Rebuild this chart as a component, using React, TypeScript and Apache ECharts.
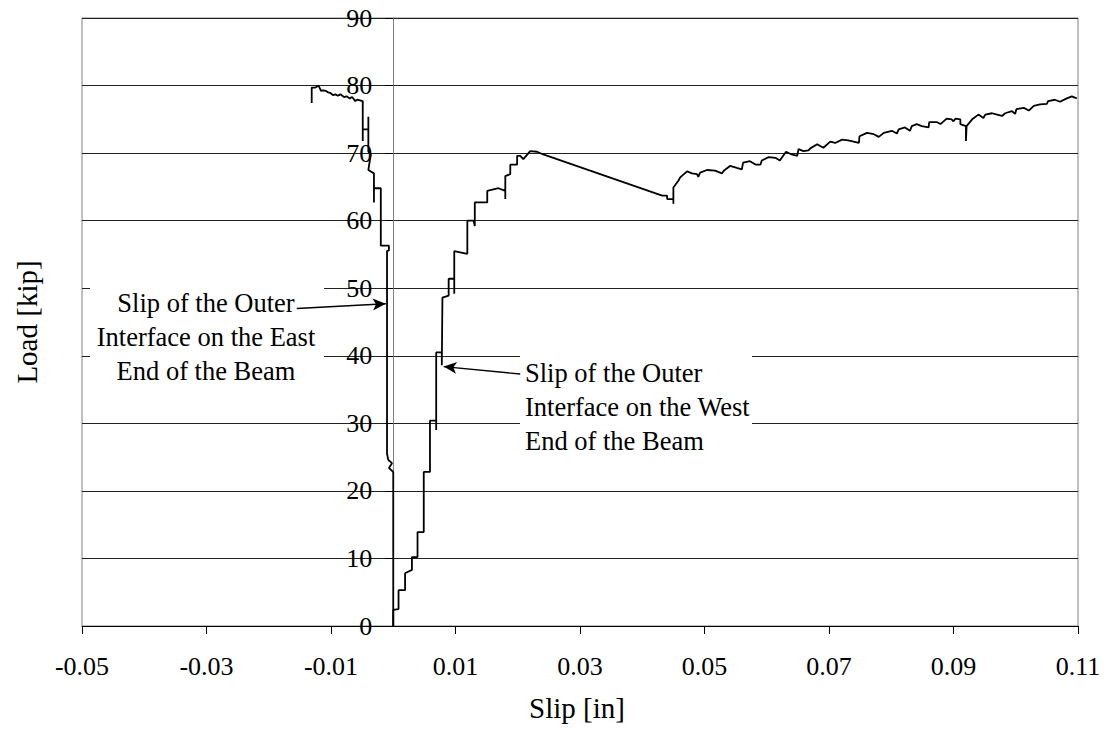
import React, { useEffect, useRef } from "react";
import * as echarts from "echarts";

const xTickValues = [-0.05, -0.03, -0.01, 0.01, 0.03, 0.05, 0.07, 0.09, 0.11];

// East end (negative slip)
const eastSlip = [
  0, 0, -0.0007, -0.0002, -0.0008, -0.001, -0.001, -0.0007, -0.0007, -0.002,
  -0.002, -0.0031, -0.0031, -0.0031, -0.0040, -0.0036, -0.0040, -0.0040, -0.0040,
  -0.0049, -0.0049, -0.0049, -0.0058, -0.0061, -0.0066, -0.0070, -0.0075, -0.0079,
  -0.0085, -0.0089, -0.0093, -0.0097, -0.0101, -0.0105, -0.0108, -0.0113, -0.0116,
  -0.0120, -0.0125, -0.0131, -0.0131,
];
const eastLoad = [
  0, 22.8, 23.4, 24.1, 24.6, 25.5, 55.5, 55.6, 56.3, 56.3,
  64.8, 64.8, 62.7, 67.0, 67.5, 69.8, 70.2, 75.4, 73.5,
  73.5, 71.8, 77.7, 77.9, 77.7, 78.3, 78.1, 78.4, 78.3,
  78.7, 78.5, 78.7, 78.6, 78.9, 79.0, 79.2, 79.3, 79.2,
  80.0, 79.7, 79.7, 77.4,
];

// West end (positive slip)
const westSlip = [
  0, 0, 0.00085, 0.00085, 0.0019, 0.0019, 0.003, 0.003, 0.0039, 0.0039,
  0.0049, 0.0049, 0.0059, 0.0059, 0.0069, 0.0069, 0.0069, 0.0078, 0.0078, 0.0079,
  0.0079, 0.0089, 0.0089, 0.0098, 0.0098, 0.0098, 0.0119, 0.0119, 0.0129, 0.0131,
  0.0131, 0.0151, 0.0151, 0.0169, 0.018, 0.018, 0.018, 0.0188, 0.0188, 0.0199,
  0.0199, 0.0204, 0.0209, 0.022, 0.0231, 0.0241, 0.0432, 0.044, 0.044, 0.045,
  0.045, 0.045, 0.0458, 0.0461, 0.0472, 0.048, 0.0488, 0.049, 0.0493, 0.0504,
  0.0517, 0.0528, 0.0531, 0.0541, 0.0552, 0.056, 0.0562, 0.0573, 0.0582, 0.059,
  0.0592, 0.0603, 0.0614, 0.0621, 0.0631, 0.064, 0.0649, 0.0651, 0.0659, 0.0667,
  0.067, 0.0681, 0.0691, 0.0702, 0.071, 0.0721, 0.0731, 0.0748, 0.0749, 0.0761,
  0.0772, 0.078, 0.0788, 0.0801, 0.0809, 0.0812, 0.0822, 0.083, 0.0833, 0.0841,
  0.0849, 0.086, 0.0861, 0.0873, 0.0879, 0.0889, 0.0897, 0.09, 0.0903, 0.0911,
  0.0911, 0.092, 0.092, 0.0921, 0.093, 0.094, 0.0948, 0.0951, 0.0962, 0.097,
  0.0978, 0.0983, 0.0994, 0.0999, 0.1001, 0.1013, 0.1021, 0.1029, 0.1039, 0.105,
  0.1052, 0.1063, 0.1071, 0.1082, 0.109, 0.1098,
];
const westLoad = [
  0, 2.4, 2.5, 5.3, 5.3, 7.8, 8.3, 10.2, 10.2, 13.9,
  13.9, 22.8, 22.8, 30.4, 30.4, 29.0, 40.5, 40.5, 38.6, 38.6,
  48.6, 48.9, 51.4, 51.4, 49.2, 55.5, 55.1, 60.0, 60.0, 59.2,
  62.7, 62.7, 64.4, 64.8, 64.4, 63.2, 66.6, 66.9, 68.3, 68.3,
  69.6, 69.6, 69.1, 70.3, 70.2, 69.8, 63.7, 63.7, 63.2, 63.2,
  62.5, 64.9, 65.9, 66.4, 67.3, 67.0, 66.9, 66.5, 67.1, 67.5,
  67.4, 67.0, 67.4, 68.1, 67.8, 67.6, 68.6, 68.8, 68.3, 68.3,
  68.9, 69.4, 69.3, 68.9, 70.2, 69.8, 69.6, 70.6, 70.3, 70.4,
  70.7, 71.3, 70.8, 71.7, 71.5, 72.0, 71.9, 71.5, 72.5, 73.0,
  72.8, 72.4, 73.0, 73.3, 72.9, 73.5, 73.8, 73.3, 74.0, 74.3,
  74.0, 73.8, 74.6, 74.6, 74.3, 75.1, 75.0, 74.7, 75.1, 75.0,
  74.3, 74.0, 71.8, 74.0, 75.0, 75.7, 75.2, 75.7, 75.9, 75.7,
  75.5, 75.9, 76.2, 75.8, 76.5, 76.7, 76.3, 77.0, 77.2, 77.3,
  77.7, 77.9, 77.6, 78.1, 78.4, 78.1,
];

// Annotation arrows (data coordinates: tail -> head)
const eastArrowFrom = [-0.0155, 47.0];
const eastArrowTo = [-0.0012, 47.7];
const westArrowFrom = [0.0204, 37.3];
const westArrowTo = [0.0081, 38.4];

const eastText = ["Slip of the Outer", "Interface on the East", "End of the Beam"];
const westText = ["Slip of the Outer", "Interface on the West", "End of the Beam"];

const FONT = "Liberation Serif, Times New Roman, serif";

export default function App() {
  const ref = useRef<HTMLDivElement>(null);
  useEffect(() => {
    if (!ref.current) return;
    const chart = echarts.init(ref.current, null, { renderer: "svg" });
    const toPairs = (xs: number[], ys: number[]) => xs.map((x, i) => [x, ys[i]]);
    const arrowLine = (from: number[], to: number[]) => ({
      type: "line",
      data: [],
      symbol: "none",
      silent: true,
      markLine: {
        silent: true,
        animation: false,
        symbol: ["none", "arrow"],
        symbolSize: [9, 13],
        label: { show: false },
        lineStyle: { color: "#000", width: 1.3, type: "solid" },
        emphasis: { disabled: true },
        data: [[{ coord: from }, { coord: to }]],
      },
    });
    const textLines = (lines: string[], x: number, y0: number, align: string) =>
      lines.map((t, i) => ({
        type: "text",
        x,
        y: y0 + i * 34,
        z: 10,
        style: {
          text: t,
          fill: "#000",
          fontSize: 26.5,
          fontFamily: FONT,
          align,
          verticalAlign: "middle",
        },
      }));
    chart.setOption({
      animation: false,
      grid: {
        left: 82,
        top: 18,
        right: 27,
        bottom: 108,
        show: true,
        borderColor: "#808080",
        borderWidth: 1,
        backgroundColor: "transparent",
      },
      xAxis: {
        type: "value",
        min: -0.05,
        max: 0.11,
        axisLine: { onZero: false, lineStyle: { color: "#000", width: 1 } },
        axisTick: {
          show: true,
          length: 8,
          customValues: xTickValues,
          lineStyle: { color: "#000" },
        },
        axisLabel: {
          customValues: xTickValues,
          formatter: (v: number) => v.toFixed(2),
          fontSize: 26,
          fontFamily: FONT,
          color: "#000",
          margin: 27,
        },
        splitLine: { show: false },
      },
      yAxis: {
        type: "value",
        min: 0,
        max: 90,
        interval: 10,
        axisLine: { show: true, onZero: true, lineStyle: { color: "#808080", width: 1 } },
        axisTick: { show: true, length: 8, lineStyle: { color: "#000" } },
        axisLabel: { fontSize: 26, fontFamily: FONT, color: "#000", margin: 21 },
        splitLine: { show: true, lineStyle: { color: "#222", width: 1 } },
      },
      series: [
        {
          type: "line",
          name: "East",
          data: toPairs(eastSlip, eastLoad),
          symbol: "none",
          showSymbol: false,
          lineStyle: { color: "#000", width: 1.8 },
          silent: true,
        },
        {
          type: "line",
          name: "West",
          data: toPairs(westSlip, westLoad),
          symbol: "none",
          showSymbol: false,
          lineStyle: { color: "#000", width: 1.8 },
          silent: true,
        },
        arrowLine(eastArrowFrom, eastArrowTo),
        arrowLine(westArrowFrom, westArrowTo),
      ],
      graphic: [
        { type: "rect", z: 1, shape: { x: 90, y: 283, width: 234, height: 108 }, style: { fill: "#fff" } },
        { type: "rect", z: 1, shape: { x: 520, y: 352, width: 232, height: 108 }, style: { fill: "#fff" } },
        ...textLines(eastText, 206, 303, "center"),
        ...textLines(westText, 525, 373, "left"),
        {
          type: "text",
          x: 27,
          y: 322,
          rotation: Math.PI / 2,
          style: { text: "Load [kip]", fill: "#000", fontSize: 29, fontFamily: FONT, align: "center", verticalAlign: "middle" },
        },
        {
          type: "text",
          x: 577,
          y: 708,
          style: { text: "Slip [in]", fill: "#000", fontSize: 29, fontFamily: FONT, align: "center", verticalAlign: "middle" },
        },
      ],
    });
    // Place the vertical axis at slip = 0 (where it crosses in the reference)
    const zeroPx = chart.convertToPixel({ xAxisIndex: 0 }, 0) as number;
    const gridLeft = chart.convertToPixel({ xAxisIndex: 0 }, -0.05) as number;
    chart.setOption({ yAxis: { offset: -(zeroPx - gridLeft) } });
    return () => chart.dispose();
  }, []);
  return (
    <div
      ref={ref}
      style={{ position: "fixed", left: 0, top: 0, width: 1105, height: 734, background: "#fff" }}
    />
  );
}
